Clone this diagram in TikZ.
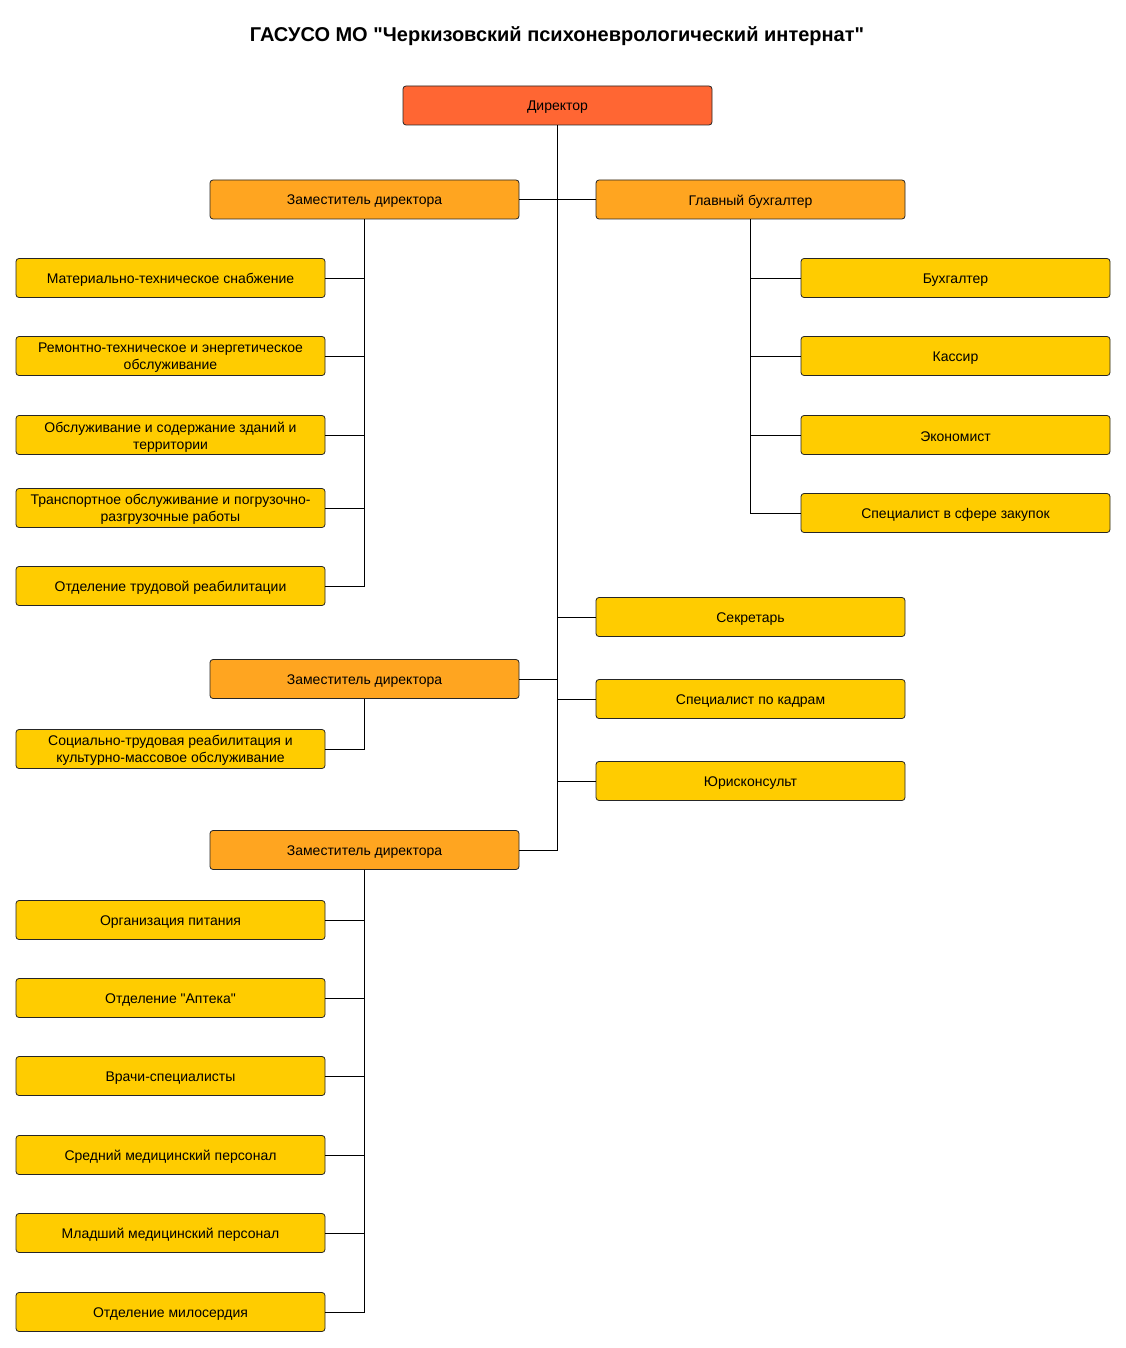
\documentclass[tikz,border=0pt]{standalone}
\usepackage{fontspec}
\setmainfont{Liberation Sans}[Ligatures=TeXOff]
\begin{document}
\begin{tikzpicture}[x=1pt,y=-1pt,
  box/.style={draw=black!85,line width=0.8pt,rounded corners=3pt,minimum width=309pt,minimum height=39pt,
    inner sep=0pt,label={[align=center,font=\fontsize{14}{17}\selectfont,yshift=-1.8pt]center:#1}},
  topbox/.style={box=#1,fill=dirc},
  depbox/.style={box=#1,fill=depc},
  itembox/.style={box=#1,fill=itemc},
  link/.style={draw=black,line width=0.9pt}]
\definecolor{dirc}{RGB}{255,102,51}
\definecolor{depc}{RGB}{255,165,32}
\definecolor{itemc}{RGB}{255,204,0}
\useasboundingbox (0,0) rectangle (1126,1348);
\node[font=\fontsize{20}{23}\selectfont\bfseries] (title) at (557,36) {ГАСУСО МО "Черкизовский психоневрологический интернат"};
\node[topbox={Директор}] (dir) at (557.5,105.5) {};
\node[depbox={Заместитель директора}] (d1) at (364.5,199.5) {};
\node[depbox={Главный бухгалтер}] (ch) at (750.5,199.5) {};
\node[itembox={Материально-техническое снабжение}] (a1) at (170.5,278) {};
\node[itembox={Ремонтно-техническое и энергетическое\\обслуживание}] (a2) at (170.5,356) {};
\node[itembox={Обслуживание и содержание зданий и\\территории}] (a3) at (170.5,435) {};
\node[itembox={Транспортное обслуживание и погрузочно-\\разгрузочные работы}] (a4) at (170.5,508) {};
\node[itembox={Отделение трудовой реабилитации}] (a5) at (170.5,586) {};
\node[itembox={Бухгалтер}] (b1) at (955.5,278) {};
\node[itembox={Кассир}] (b2) at (955.5,356) {};
\node[itembox={Экономист}] (b3) at (955.5,435) {};
\node[itembox={Специалист в сфере закупок}] (b4) at (955.5,513) {};
\node[itembox={Секретарь}] (s1) at (750.5,617) {};
\node[itembox={Специалист по кадрам}] (s2) at (750.5,699) {};
\node[itembox={Юрисконсульт}] (s3) at (750.5,781) {};
\node[depbox={Заместитель директора}] (d2) at (364.5,679) {};
\node[itembox={Социально-трудовая реабилитация и\\культурно-массовое обслуживание}] (e1) at (170.5,749) {};
\node[depbox={Заместитель директора}] (d3) at (364.5,850) {};
\node[itembox={Организация питания}] (f1) at (170.5,920) {};
\node[itembox={Отделение "Аптека"}] (f2) at (170.5,998) {};
\node[itembox={Врачи-специалисты}] (f3) at (170.5,1076) {};
\node[itembox={Средний медицинский персонал}] (f4) at (170.5,1155) {};
\node[itembox={Младший медицинский персонал}] (f5) at (170.5,1233) {};
\node[itembox={Отделение милосердия}] (f6) at (170.5,1312) {};
% main trunk
\draw[link] (dir.south) -- (dir.south |- d3.east) -- (d3.east);
\draw[link] (d1.east) -- (d1.east -| dir.south) -- (ch.west);
\draw[link] (d2.east) -- (d2.east -| dir.south);
\foreach \n in {s1,s2,s3} \draw[link] (\n.west -| dir.south) -- (\n.west);
% children
\foreach \n in {a1,a2,a3,a4,a5} \draw[link] (d1.south) |- (\n.east);
\foreach \n in {b1,b2,b3,b4} \draw[link] (ch.south) |- (\n.west);
\draw[link] (d2.south) |- (e1.east);
\foreach \n in {f1,f2,f3,f4,f5,f6} \draw[link] (d3.south) |- (\n.east);
\end{tikzpicture}
\end{document}
